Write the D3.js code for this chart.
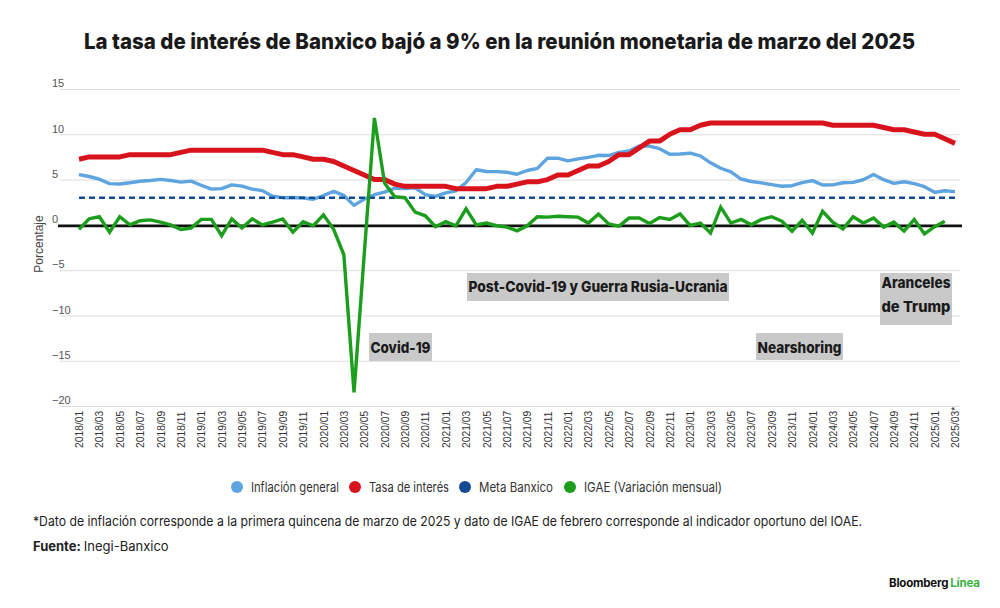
<!DOCTYPE html>
<html lang="es">
<head>
<meta charset="utf-8">
<script src="https://d3js.org/d3.v7.min.js"></script>
<title>Tasa Banxico</title>
<style>
  body { margin: 0; background: #fff; }
  svg text { font-family: Inter, "Noto Sans", sans-serif; }
</style>
</head>
<body>
<script>
// meses 2018/01 .. 2025/03
const meses = [
  "2018/01","2018/02","2018/03","2018/04","2018/05","2018/06","2018/07","2018/08","2018/09","2018/10","2018/11","2018/12",
  "2019/01","2019/02","2019/03","2019/04","2019/05","2019/06","2019/07","2019/08","2019/09","2019/10","2019/11","2019/12",
  "2020/01","2020/02","2020/03","2020/04","2020/05","2020/06","2020/07","2020/08","2020/09","2020/10","2020/11","2020/12",
  "2021/01","2021/02","2021/03","2021/04","2021/05","2021/06","2021/07","2021/08","2021/09","2021/10","2021/11","2021/12",
  "2022/01","2022/02","2022/03","2022/04","2022/05","2022/06","2022/07","2022/08","2022/09","2022/10","2022/11","2022/12",
  "2023/01","2023/02","2023/03","2023/04","2023/05","2023/06","2023/07","2023/08","2023/09","2023/10","2023/11","2023/12",
  "2024/01","2024/02","2024/03","2024/04","2024/05","2024/06","2024/07","2024/08","2024/09","2024/10","2024/11","2024/12",
  "2025/01","2025/02","2025/03"
];

// inflación general anual (%)
const inflacion = [
  5.55, 5.34, 5.04, 4.55, 4.51, 4.65, 4.81, 4.90, 5.02, 4.90, 4.72, 4.83,
  4.37, 3.94, 4.00, 4.41, 4.28, 3.95, 3.78, 3.16, 3.00, 3.02, 2.97, 2.83,
  3.24, 3.70, 3.25, 2.15, 2.84, 3.33, 3.62, 4.05, 4.01, 4.09, 3.33, 3.15,
  3.54, 3.76, 4.67, 6.08, 5.89, 5.88, 5.81, 5.59, 6.00, 6.24, 7.37, 7.36,
  7.07, 7.28, 7.45, 7.68, 7.65, 7.99, 8.15, 8.70, 8.70, 8.41, 7.80, 7.82,
  7.91, 7.62, 6.85, 6.25, 5.84, 5.06, 4.79, 4.64, 4.45, 4.26, 4.32, 4.66,
  4.88, 4.40, 4.42, 4.65, 4.69, 4.98, 5.57, 4.99, 4.58, 4.76, 4.55, 4.21,
  3.59, 3.77, 3.67
];

// tasa objetivo Banxico (%)
const tasa = [
  7.25, 7.50, 7.50, 7.50, 7.50, 7.75, 7.75, 7.75, 7.75, 7.75, 8.00, 8.25,
  8.25, 8.25, 8.25, 8.25, 8.25, 8.25, 8.25, 8.00, 7.75, 7.75, 7.50, 7.25,
  7.25, 7.00, 6.50, 6.00, 5.50, 5.00, 5.00, 4.50, 4.25, 4.25, 4.25, 4.25,
  4.25, 4.00, 4.00, 4.00, 4.00, 4.25, 4.25, 4.50, 4.75, 4.75, 5.00, 5.50,
  5.50, 6.00, 6.50, 6.50, 7.00, 7.75, 7.75, 8.50, 9.25, 9.25, 10.00, 10.50,
  10.50, 11.00, 11.25, 11.25, 11.25, 11.25, 11.25, 11.25, 11.25, 11.25, 11.25, 11.25,
  11.25, 11.25, 11.00, 11.00, 11.00, 11.00, 11.00, 10.75, 10.50, 10.50, 10.25, 10.00,
  10.00, 9.50, 9.00
];

// IGAE variación mensual (%), sin dato para 2025/03
const igae = [
  -0.50, 0.66, 0.90, -0.80, 0.90, 0.00, 0.45, 0.55, 0.30, 0.00, -0.50, -0.35,
  0.60, 0.60, -1.20, 0.66, -0.35, 0.66, 0.00, 0.30, 0.66, -0.80, 0.35, -0.10,
  1.10, -0.50, -3.30, -18.50, -3.30, 11.80, 4.60, 3.10, 3.00, 1.40, 1.00, -0.20,
  0.35, -0.10, 1.77, 0.00, 0.20, -0.10, -0.25, -0.66, -0.10, 0.90, 0.85, 0.95,
  0.90, 0.85, 0.20, 1.20, 0.10, -0.15, 0.75, 0.75, 0.15, 0.80, 0.60, 1.20,
  -0.07, 0.20, -0.90, 1.95, 0.20, 0.60, 0.00, 0.60, 0.90, 0.40, -0.70, 0.50,
  -0.90, 1.50, 0.30, -0.45, 0.90, 0.20, 0.75, -0.25, 0.30, -0.70, 0.60, -1.00,
  -0.20, 0.40, null
];

const metaBanxico = 3;

const yTicks = [-20, -15, -10, -5, 0, 5, 10, 15];
const xTicks = meses.filter(m => +m.slice(5) % 2 === 1);

const series = [
  { name: "Inflación general", color: "#5da4e0" },
  { name: "Tasa de interés", color: "#d9131c" },
  { name: "Meta Banxico", color: "#134b92" },
  { name: "IGAE (Variación mensual)", color: "#1c9e1c" }
];

const notas = [
  { lines: ["Covid-19"], left: 369, top: 333, w: 63, h: 28, base: 19.7 },
  { lines: ["Post-Covid-19 y Guerra Rusia-Ucrania"], left: 467, top: 273, w: 262, h: 28, base: 19.3 },
  { lines: ["Nearshoring"], left: 756, top: 333, w: 87, h: 27, base: 19.7 },
  { lines: ["Aranceles", "de Trump"], left: 880, top: 273, w: 72, h: 52, base: 14.5 }
];

const W = 1000, H = 608;

const svg = d3.select("body").append("svg")
  .attr("width", W)
  .attr("height", H);

// fits a text element to a given width
function fit(sel, w) {
  sel.attr("textLength", w).attr("lengthAdjust", "spacingAndGlyphs");
}

// title
svg.append("text")
  .attr("x", 84).attr("y", 49)
  .style("font-size", "22px").style("font-weight", 800)
  .attr("fill", "#1a1a1a")
  .text("La tasa de interés de Banxico bajó a 9% en la reunión monetaria de marzo del 2025")
  .call(fit, 831);

// scales
const x = d3.scalePoint().domain(meses).range([79, 955]);
const y = d3.scaleLinear().domain([-20, 15]).range([406, 89]);

// y axis + grid
const gy = svg.append("g")
  .attr("transform", "translate(60,0)")
  .call(d3.axisLeft(y).tickValues(yTicks).tickSize(-900));
gy.select(".domain").remove();
gy.selectAll(".tick line").attr("stroke", "#dcdcdc").attr("stroke-width", 1);
gy.selectAll(".tick text")
  .attr("x", -8).attr("dy", "-0.2em")
  .attr("text-anchor", "start")
  .attr("fill", "#555")
  .style("font-family", "'Liberation Sans', Arial, sans-serif")
  .style("font-size", "11px");

svg.append("text")
  .attr("transform", "translate(43,244) rotate(-90)")
  .attr("text-anchor", "middle")
  .attr("fill", "#444")
  .style("font-family", "'Liberation Sans', Arial, sans-serif")
  .style("font-size", "12px")
  .text("Porcentaje");

// x axis labels
const gx = svg.append("g")
  .attr("transform", "translate(0,448)")
  .call(d3.axisBottom(x).tickValues(xTicks).tickSize(0)
    .tickFormat(d => d === "2025/03" ? d + "*" : d));
gx.select(".domain").remove();
gx.selectAll(".tick text")
  .attr("x", 0).attr("y", 0).attr("dy", "0.35em")
  .attr("transform", "rotate(-90)")
  .attr("text-anchor", "start")
  .attr("fill", "#333")
  .style("font-family", "'Liberation Sans', Arial, sans-serif")
  .style("font-size", "10.3px");

// zero line
svg.append("line")
  .attr("x1", 58).attr("x2", 962)
  .attr("y1", y(0) + 1).attr("y2", y(0) + 1)
  .attr("stroke", "#111").attr("stroke-width", 2.6);

const line = vals => d3.line()
  .defined(i => vals[i] != null)
  .x(i => x(meses[i]))
  .y(i => y(vals[i]))(d3.range(vals.length));

svg.append("path")
  .attr("d", line(inflacion))
  .attr("fill", "none").attr("stroke", series[0].color)
  .attr("stroke-width", 3.4).attr("stroke-linejoin", "round");

svg.append("path")
  .attr("d", line(tasa))
  .attr("fill", "none").attr("stroke", series[1].color)
  .attr("stroke-width", 5).attr("stroke-linejoin", "round");

svg.append("line")
  .attr("x1", x(meses[0])).attr("x2", x(meses[meses.length - 1]))
  .attr("y1", y(metaBanxico)).attr("y2", y(metaBanxico))
  .attr("stroke", series[2].color).attr("stroke-width", 2.4)
  .attr("stroke-dasharray", "6,4");

svg.append("path")
  .attr("d", line(igae))
  .attr("fill", "none").attr("stroke", series[3].color)
  .attr("stroke-width", 3.4).attr("stroke-linejoin", "miter");

// annotations
const na = svg.append("g").selectAll("g").data(notas).join("g");
na.append("rect")
  .attr("x", d => d.left).attr("y", d => d.top)
  .attr("width", d => d.w).attr("height", d => d.h)
  .attr("fill", "#c9c9c9");
na.each(function(d) {
  d.lines.forEach((t, k) => {
    d3.select(this).append("text")
      .attr("x", d.left + 1.5)
      .attr("y", d.top + d.base + k * 24.4)
      .attr("fill", "#1a1a1a")
      .style("font-size", "15px").style("font-weight", 800)
      .text(t)
      .call(fit, d.w - 3);
  });
});

// legend
const legX = [237, 355, 465, 570];
const legW = [88, 80, 74, 138];
const lg = svg.append("g").selectAll("g").data(series).join("g")
  .attr("transform", (d, i) => `translate(${legX[i]},487)`);
lg.append("circle").attr("r", 6).attr("fill", d => d.color);
lg.append("text")
  .attr("x", 14).attr("dy", "0.36em")
  .attr("fill", "#333")
  .style("font-size", "13.5px")
  .text(d => d.name)
  .each(function(d, i) { d3.select(this).call(fit, legW[i]); });

// footnote
svg.append("text")
  .attr("x", 33).attr("y", 526)
  .attr("fill", "#222")
  .style("font-size", "13.5px")
  .text("*Dato de inflación corresponde a la primera quincena de marzo de 2025 y dato de IGAE de febrero corresponde al indicador oportuno del IOAE.")
  .call(fit, 829);

const fuente = svg.append("text")
  .attr("x", 33).attr("y", 551)
  .attr("fill", "#222")
  .style("font-size", "13px");
fuente.append("tspan").style("font-weight", 700).text("Fuente:");
fuente.append("tspan").attr("dx", 3).text("Inegi-Banxico");

// logo
const logo = svg.append("text")
  .attr("x", 889).attr("y", 587)
  .style("font-size", "11.5px").style("font-weight", 700)
  .attr("letter-spacing", "-0.2");
logo.append("tspan").attr("fill", "#111").text("Bloomberg");
logo.append("tspan").attr("dx", 2).attr("fill", "#3bb143").text("Línea");
</script>
</body>
</html>
